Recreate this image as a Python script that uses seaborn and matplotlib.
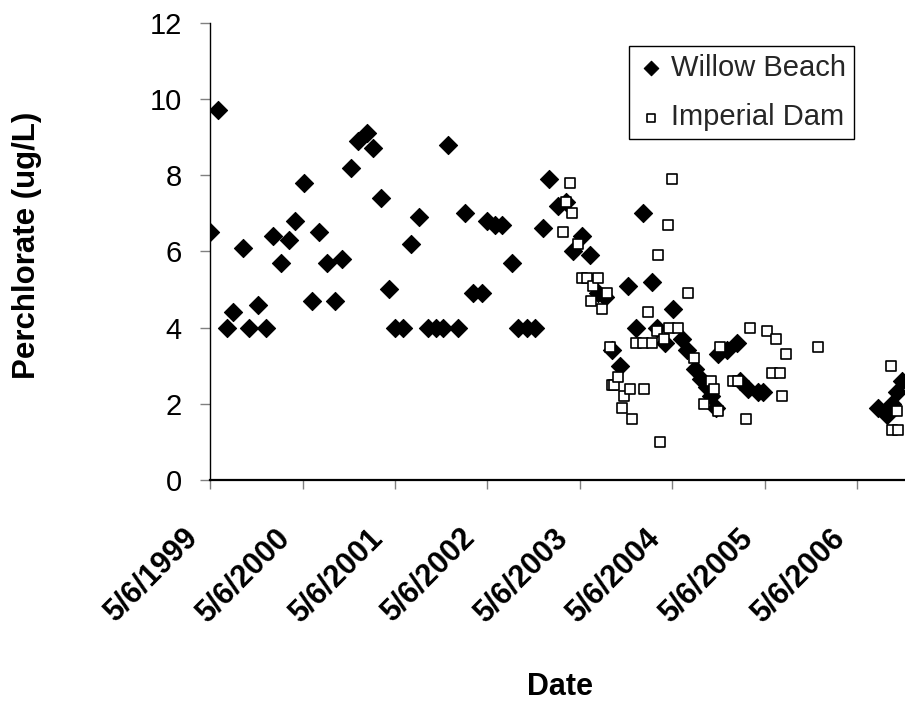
import matplotlib
matplotlib.use("Agg")
import matplotlib.pyplot as plt
from matplotlib.transforms import ScaledTranslation
import pandas as pd
import seaborn as sns


# ── Data ──────────────────────────────────────────────────────────────────

willow_dates = [
    "1999-05-06", "1999-06-05", "1999-07-13", "1999-08-06", "1999-09-15",
    "1999-10-08", "1999-11-10", "1999-12-12", "2000-01-10", "2000-02-12",
    "2000-03-14", "2000-04-07", "2000-05-10", "2000-06-11", "2000-07-11",
    "2000-08-09", "2000-09-12", "2000-10-07", "2000-11-14", "2000-12-12",
    "2001-01-14", "2001-02-09", "2001-03-12", "2001-04-13", "2001-05-06",
    "2001-06-08", "2001-07-09", "2001-08-10", "2001-09-15", "2001-10-15",
    "2001-11-13", "2001-12-02", "2002-01-09", "2002-02-07", "2002-03-11",
    "2002-04-13", "2002-05-03", "2002-06-05", "2002-07-03", "2002-08-10",
    "2002-09-05", "2002-10-08", "2002-11-10", "2002-12-13", "2003-01-06",
    "2003-02-10", "2003-03-12", "2003-04-10", "2003-05-14", "2003-06-15",
    "2003-07-17", "2003-08-14", "2003-09-09", "2003-10-12", "2003-11-11",
    "2003-12-13", "2004-01-12", "2004-02-14", "2004-03-05", "2004-04-07",
    "2004-05-09", "2004-06-12", "2004-07-02", "2004-08-03", "2004-08-27",
    "2004-09-19", "2004-10-05", "2004-10-25", "2004-11-03", "2004-12-06",
    "2005-01-15", "2005-01-28", "2005-03-02", "2005-04-10", "2005-04-29",
    "2006-07-29", "2006-08-31", "2006-09-19", "2006-10-09", "2006-10-29",
]
willow_ugl = [
    6.5, 9.7, 4.0, 4.4, 6.1,
    4.0, 4.6, 4.0, 6.4, 5.7,
    6.3, 6.8, 7.8, 4.7, 6.5,
    5.7, 4.7, 5.8, 8.2, 8.9,
    9.1, 8.7, 7.4, 5.0, 4.0,
    4.0, 6.2, 6.9, 4.0, 4.0,
    4.0, 8.8, 4.0, 7.0, 4.9,
    4.9, 6.8, 6.7, 6.7, 5.7,
    4.0, 4.0, 4.0, 6.6, 7.9,
    7.2, 7.3, 6.0, 6.4, 5.9,
    4.9, 4.8, 3.4, 3.0, 5.1,
    4.0, 7.0, 5.2, 4.0, 3.6,
    4.5, 3.7, 3.4, 2.9, 2.65,
    2.45, 2.2, 1.9, 3.3, 3.4,
    3.6, 2.6, 2.4, 2.3, 2.3,
    1.9, 1.7, 2.0, 2.3, 2.6,
]

imperial_dates = [
    "2003-02-27", "2003-03-12", "2003-03-28", "2003-04-07", "2003-04-30",
    "2003-05-14", "2003-06-02", "2003-06-18", "2003-06-29", "2003-07-18",
    "2003-07-31", "2003-08-20", "2003-09-04", "2003-09-09", "2003-09-20",
    "2003-10-05", "2003-10-21", "2003-10-29", "2003-11-20", "2003-11-29",
    "2003-12-14", "2004-01-11", "2004-01-16", "2004-02-01", "2004-02-17",
    "2004-03-05", "2004-03-11", "2004-03-18", "2004-04-03", "2004-04-20",
    "2004-04-21", "2004-05-06", "2004-05-29", "2004-07-08", "2004-08-01",
    "2004-09-08", "2004-10-04", "2004-10-19", "2004-11-03", "2004-11-10",
    "2005-01-01", "2005-01-20", "2005-02-20", "2005-03-08", "2005-05-13",
    "2005-06-02", "2005-06-19", "2005-07-05", "2005-07-14", "2005-07-29",
    "2005-12-03", "2006-09-15", "2006-09-19", "2006-10-09", "2006-10-15",
]
imperial_ugl = [
    6.5, 7.3, 7.8, 7.0, 6.2,
    5.3, 5.3, 4.7, 5.1, 5.3,
    4.5, 4.9, 3.5, 2.5, 2.5,
    2.7, 1.9, 2.2, 2.4, 1.6,
    3.6, 3.6, 2.4, 4.4, 3.6,
    3.9, 5.9, 1.0, 3.7, 6.7,
    4.0, 7.9, 4.0, 4.9, 3.2,
    2.0, 2.6, 2.4, 1.8, 3.5,
    2.6, 2.6, 1.6, 4.0, 3.9,
    2.8, 3.7, 2.8, 2.2, 3.3,
    3.5, 3.0, 1.3, 1.8, 1.3,
]

tick_dates = ["1999-05-06", "2000-05-06", "2001-05-06", "2002-05-06",
              "2003-05-06", "2004-05-06", "2005-05-06", "2006-05-06"]
tick_labels = ["5/6/1999", "5/6/2000", "5/6/2001", "5/6/2002",
               "5/6/2003", "5/6/2004", "5/6/2005", "5/6/2006"]
y_ticks = [0, 2, 4, 6, 8, 10, 12]

x_start, x_end = "1999-05-06", "2006-11-11"


# ── Figure ────────────────────────────────────────────────────────────────

sns.set_theme(style="white")
plt.rcParams["font.family"] = ["Liberation Sans", "DejaVu Sans"]

W, H = 905, 703
fig = plt.figure(figsize=(W / 100, H / 100), dpi=100)
ax = fig.add_axes([210 / W, 1 - 480 / H, 695 / W, (480 - 22.7) / H])

willow = pd.DataFrame({"date": pd.to_datetime(willow_dates), "ugl": willow_ugl})
imperial = pd.DataFrame({"date": pd.to_datetime(imperial_dates), "ugl": imperial_ugl})

sns.scatterplot(data=willow, x="date", y="ugl", marker="D", s=85,
                color="black", edgecolor="black", linewidth=0.8,
                label="Willow Beach", ax=ax, zorder=3)
sns.scatterplot(data=imperial, x="date", y="ugl", marker="s", s=50,
                color="white", edgecolor="black", linewidth=1.2,
                label="Imperial Dam", ax=ax, zorder=4)

ax.set_xlim(pd.Timestamp(x_start), pd.Timestamp(x_end))
ax.set_ylim(0, 12)
ax.set_yticks(y_ticks)
ax.set_yticklabels([str(v) for v in y_ticks], fontsize=21)
ax.set_xticks(pd.to_datetime(tick_dates))
ax.set_xticklabels(tick_labels, fontsize=22, fontweight="bold",
                   rotation=45, ha="right", va="center", rotation_mode="anchor")

ax.tick_params(axis="y", left=True, direction="out", length=7.2, width=1.0,
               color="#808080", pad=13, labelcolor="black")
ax.tick_params(axis="x", bottom=True, direction="out", length=6.5, width=1.0,
               color="#808080", pad=32, labelcolor="black")
# Excel puts the end of each rotated label a little left of its tick
for lab in ax.get_xticklabels():
    lab.set_transform(lab.get_transform()
                      + ScaledTranslation(-0.17, 0, fig.dpi_scale_trans))

ax.spines[["top", "right"]].set_visible(False)
ax.spines["left"].set_color("black")
ax.spines["left"].set_linewidth(1.0)
ax.spines["bottom"].set_color("black")
ax.spines["bottom"].set_linewidth(1.6)

ax.set_ylabel("Perchlorate (ug/L)", fontsize=22.5, fontweight="bold", color="black")
ax.set_xlabel("Date", fontsize=22, fontweight="bold", color="black")
ax.yaxis.set_label_coords((42 - 210) / 695, 0.514)
ax.xaxis.set_label_coords((560 - 210) / 695, (480 - 672) / 457.3)

leg = ax.legend(loc="upper right", bbox_to_anchor=(854 / W, 1 - 46 / H),
                bbox_transform=fig.transFigure, borderaxespad=0,
                fontsize=21, frameon=True, fancybox=False, framealpha=1,
                edgecolor="black", borderpad=0.26, labelspacing=0.75,
                handletextpad=0.2, handlelength=1.0, markerscale=0.8)
leg.get_frame().set_linewidth(1.0)

fig.savefig("out.png", dpi=100)
